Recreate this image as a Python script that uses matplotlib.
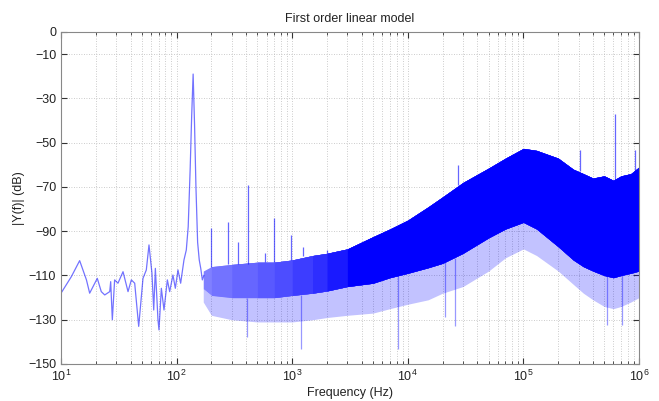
import numpy as np
import matplotlib
matplotlib.use("Agg")
import matplotlib.pyplot as plt
from matplotlib.ticker import LogLocator, NullFormatter

# ---------------- data ----------------
# low-frequency trace (Hz, dB)
lf_freq = [10.0, 10.2, 12.3, 14.5, 16.6, 17.7, 20.6, 22.3, 23.9, 26.4, 26.9, 27.8, 29.1,
           31.1, 34.4, 38.0, 40.6, 43.4, 47.0, 51.2, 54.7, 57.7, 61.2, 63.4, 65.5, 69.0,
           70.4, 73.8, 77.8, 83.2, 87.1, 93.0, 97.5, 102.8, 108.4, 115.8, 121.3, 126.0,
           131.0, 135.0, 139.0, 143.0, 147.0, 152.0, 157.0, 162.0, 167.0, 172.0]
lf_db = [-118.0, -117.3, -110.5, -103.3, -112.0, -118.0, -111.3, -117.3, -118.8, -117.3,
         -112.8, -130.0, -112.0, -113.5, -108.3, -117.3, -112.0, -113.5, -133.0, -111.3,
         -107.5, -96.2, -109.0, -125.6, -106.8, -130.0, -134.6, -115.8, -125.6, -112.0,
         -117.3, -109.8, -115.8, -107.5, -113.5, -103.0, -98.5, -88.0, -62.0, -38.0,
         -19.0, -42.0, -70.0, -95.0, -103.0, -107.0, -112.0, -110.0]

# dense noise band: frequency, upper envelope, lower edge of solid core, lowest sparse dips
band_freq = [170, 200, 300, 500, 700, 1000, 1500, 2000, 3000, 5000, 7000, 1e4, 1.5e4,
             2e4, 3e4, 5e4, 7e4, 1e5, 1.3e5, 2e5, 2.7e5, 3.3e5, 4e5, 5e5, 6e5, 7e5,
             8.5e5, 1e6]
band_upper = [-108, -106, -105, -104, -104, -103, -101, -100, -98, -92.5, -89, -85, -79,
              -74.5, -68, -61.5, -57, -52.6, -53.5, -57, -62, -64, -66, -65, -67, -65,
              -64, -61]
band_core_low = [-116, -119, -120, -120, -120, -119, -118, -117, -115, -113.5, -111,
                 -109, -106.5, -104.5, -100, -93, -89, -86, -89, -97, -103, -106, -108,
                 -110, -111, -110, -109, -108]
band_sparse_low = [-122, -128, -130, -131, -131, -131, -130, -129, -128, -127, -125,
                   -123, -121, -118, -115, -108, -102, -98, -101, -108, -114, -118,
                   -121, -124, -125, -124, -122, -120]

# isolated upward spikes (Hz, base dB, top dB)
spike_freq = [199, 280, 337, 417, 582, 700, 977, 1250, 2000, 27000, 308000, 620000, 920000]
spike_base = [-106, -105, -105, -105, -104, -104, -103, -101, -100, -69, -63, -67, -64]
spike_top = [-88.7, -85.7, -94.7, -69.0, -100.0, -84.0, -91.7, -97.0, -98.5, -60.0,
             -53.3, -37.0, -53.3]

# isolated downward dips (Hz, base dB, bottom dB)
dip_freq = [404, 1190, 8300, 21000, 25600, 525000, 710000]
dip_base = [-120, -119, -110, -104, -102, -110, -110]
dip_bottom = [-138, -143, -143, -128.6, -133, -132.4, -132.4]

y_ticks = [0, -10, -30, -50, -70, -90, -110, -130, -150]

# ---------------- figure ----------------
plt.rcParams['font.family'] = ['Liberation Sans', 'DejaVu Sans']
fig = plt.figure(figsize=(6.59, 4.01), dpi=100)
ax = fig.add_axes([61 / 659, 1 - 364 / 401, 578 / 659, 332 / 401])

blue = '#0000FF'
bf = np.array(band_freq, dtype=float)
bu = np.array(band_upper, dtype=float)
bl = np.array(band_core_low, dtype=float)
bs = np.array(band_sparse_low, dtype=float)

# density of the solid core (visual style: lighter where the trace is sparser),
# applied as opaque tints of blue, each drawn from its start to the end of the band
core_density = [0.5, 0.55, 0.6, 0.65, 0.7, 0.76, 0.82, 0.9, 1.0]

# sparse lower part of the band
ax.fill_between(bf, bl, bs, color=blue, alpha=0.24, linewidth=0)
for i, d in enumerate(core_density):
    tint = (1 - d, 1 - d, 1.0)
    ax.fill_between(bf[i:], bu[i:], bl[i:], color=tint, linewidth=0)

# low-frequency trace
ax.plot(lf_freq, lf_db, color=blue, alpha=0.55, linewidth=0.9)

# spikes and dips
ax.vlines(spike_freq, spike_base, spike_top, color=blue, alpha=0.6, linewidth=0.9)
ax.vlines(dip_freq, dip_base, dip_bottom, color=blue, alpha=0.4, linewidth=0.9)

ax.set_xscale('log')
ax.set_xlim(10, 1e6)
ax.set_ylim(-150, 0)
ax.set_yticks(y_ticks)
ax.xaxis.set_major_locator(LogLocator(base=10, numticks=10))
ax.xaxis.set_minor_locator(LogLocator(base=10, subs=np.arange(2, 10), numticks=50))
ax.xaxis.set_minor_formatter(NullFormatter())

grid_kw = dict(color='#bbbbbb', linestyle=(0, (1, 2)), linewidth=0.6)
ax.grid(True, which='major', axis='both', **grid_kw)
ax.grid(True, which='minor', axis='x', **grid_kw)
ax.set_axisbelow(True)

ax.tick_params(which='both', direction='in', top=True, right=True,
               colors='#333333', labelcolor='#222222', labelsize=9)
ax.tick_params(which='major', length=4)
ax.tick_params(which='minor', length=2)
for s in ax.spines.values():
    s.set_color('#888888')
    s.set_linewidth(0.8)

ax.set_title('First order linear model', fontsize=9, color='#222222', pad=7)
ax.set_xlabel('Frequency (Hz)', fontsize=9, color='#222222', labelpad=2)
ax.set_ylabel('|Y(f)| (dB)', fontsize=9, color='#222222', labelpad=2)

fig.savefig('out.png', dpi=100)
